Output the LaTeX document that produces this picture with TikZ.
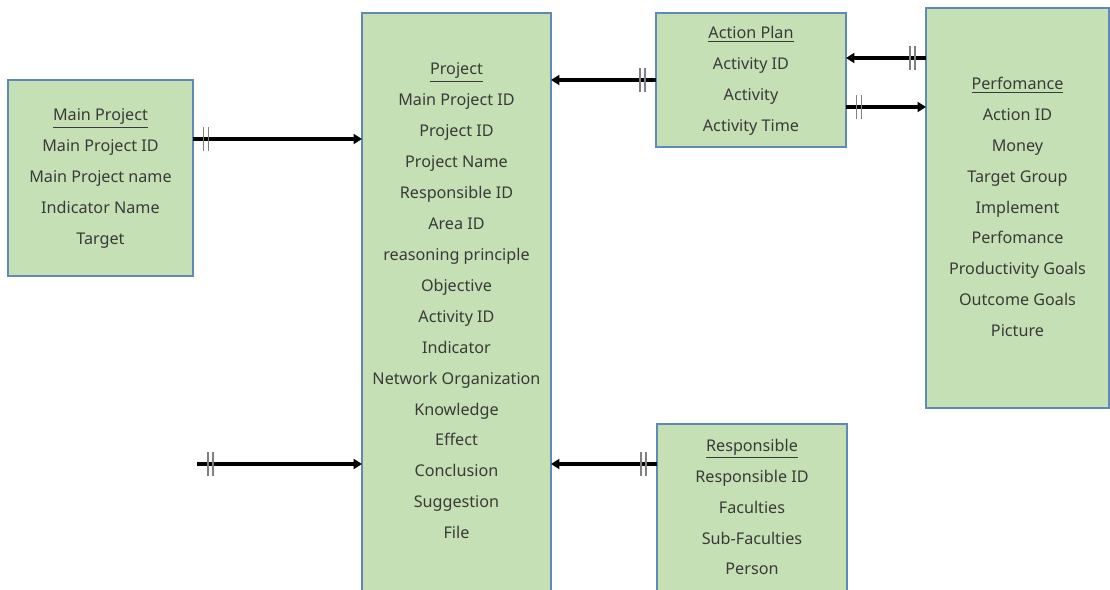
\documentclass[tikz,border=0pt]{standalone}
\usepackage{fontspec}
\setmainfont{Noto Sans}
\usetikzlibrary{arrows.meta}
\usetikzlibrary{decorations.markings}
\definecolor{boxfill}{HTML}{C5E0B4}
\definecolor{boxline}{HTML}{5F8AB8}
\definecolor{fieldtext}{HTML}{3A3A3A}

\begin{document}
\begin{tikzpicture}
[x=0.02cm,y=-0.02cm,%
  every node/.style={inner sep=0pt,outer sep=0pt},%
  entity/.style={draw=boxline,fill=boxfill,line width=0.8pt,anchor=north west},%
  fields/.style={anchor=north,align=center,text=fieldtext,
    font=\fontsize{9.2}{17.6}\selectfont},%
  onetoone/.style={line width=2.2pt,-{Triangle[length=0.17cm,width=0.2cm]},
    postaction={decorate},
    decoration={markings,
      mark=at position 0.22cm with {\draw[-,gray,line width=0.6pt] (0,-0.24cm) -- (0,0.24cm);},
      mark=at position 0.32cm with {\draw[-,gray,line width=0.6pt] (0,-0.24cm) -- (0,0.24cm);}}}]
\clip (0,0) rectangle (1110,590);
% entities
\node[entity,minimum width=3.70cm,minimum height=3.92cm] (mainprj) at (8,80) {};
\node[entity,minimum width=3.78cm,minimum height=12.0cm] (prj) at (362,13) {};
\node[entity,minimum width=3.80cm,minimum height=2.68cm] (plan) at (656,13) {};
\node[entity,minimum width=3.66cm,minimum height=8.00cm] (perf) at (926,8) {};
\node[entity,minimum width=3.80cm,minimum height=4.00cm] (resp) at (657,424) {};
% fields
\node[fields] (mainprjf) at (mainprj.north |- 0,109) {\underline{Main Project}\\Main Project ID\\Main Project name\\Indicator Name\\Target};
\node[fields] (prjf) at (prj.north |- 0,63) {\underline{Project}\\Main Project ID\\Project ID\\Project Name\\Responsible ID\\Area ID\\reasoning principle\\Objective\\Activity ID\\Indicator\\Network Organization\\Knowledge\\Effect\\Conclusion\\Suggestion\\File};
\node[fields] (planf) at (plan.north |- 0,26) {\underline{Action Plan}\\Activity ID\\Activity\\Activity Time};
\node[fields] (perff) at (perf.north |- 0,77) {\underline{Perfomance}\\Action ID\\Money\\Target Group\\Implement\\Perfomance\\Productivity Goals\\Outcome Goals\\Picture};
\node[fields] (respf) at (resp.north |- 0,439) {\underline{Responsible}\\Responsible ID\\Faculties\\Sub-Faculties\\Person};
% relations
\coordinate (open) at (197,464);
\draw[onetoone] (mainprj.east |- 0,139) -- (prj.west |- 0,139);
\draw[onetoone] (plan.west |- 0,80) -- (prj.east |- 0,80);
\draw[onetoone] (perf.west |- 0,58) -- (plan.east |- 0,58);
\draw[onetoone] (plan.east |- 0,107) -- (perf.west |- 0,107);
\draw[onetoone] (open) -- (prj.west |- open);
\draw[onetoone] (resp.west |- 0,464) -- (prj.east |- 0,464);
\end{tikzpicture}
\end{document}
